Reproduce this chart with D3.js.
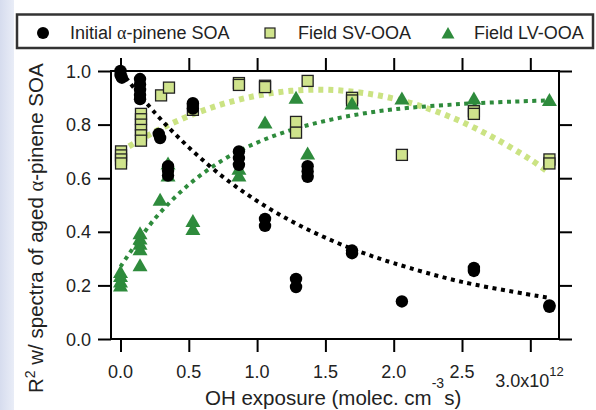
<!DOCTYPE html>
<html><head><meta charset="utf-8">
<script src="https://cdn.jsdelivr.net/npm/d3@7"></script>
<style>body{margin:0;background:#fff;} svg{display:block;font-family:"Liberation Sans",Arial,sans-serif;}</style>
</head><body>
<svg id="c" width="596" height="410"></svg>
<script>
// ---- data (x in 1e12 molec cm^-3 s, y = R^2) ----
const initialSOA = [[0,1.0],[0,0.985],[0.01,0.975],
  [0.143,0.97],[0.143,0.95],[0.143,0.93],[0.143,0.91],[0.143,0.895],
  [0.28,0.765],[0.29,0.75],[0.348,0.645],[0.348,0.628],[0.348,0.61],
  [0.53,0.88],[0.53,0.86],[0.867,0.70],[0.867,0.675],[0.867,0.65],
  [1.058,0.448],[1.058,0.422],[1.285,0.224],[1.285,0.194],
  [1.37,0.645],[1.37,0.625],[1.37,0.605],[1.695,0.33],[1.695,0.32],
  [2.06,0.14],[2.587,0.265],[2.587,0.254],[3.14,0.125],[3.14,0.12]];
const fieldSV = [[0.004,0.70],[0.004,0.685],[0.004,0.67],[0.004,0.655],
  [0.15,0.84],[0.15,0.82],[0.15,0.80],[0.15,0.78],[0.15,0.76],[0.15,0.74],
  [0.297,0.909],[0.355,0.938],[0.53,0.855],[0.867,0.955],[0.867,0.948],
  [1.058,0.945],[1.058,0.94],[1.37,0.963],[1.285,0.81],[1.285,0.77],
  [1.695,0.90],[1.695,0.89],[2.06,0.687],[2.587,0.85],[2.587,0.84],
  [3.14,0.67],[3.14,0.655]];
const fieldLV = [[0,0.25],[0,0.235],[0,0.215],[0,0.20],
  [0.143,0.395],[0.143,0.375],[0.143,0.355],[0.143,0.335],[0.143,0.275],
  [0.29,0.52],[0.348,0.655],[0.348,0.61],[0.53,0.44],[0.53,0.41],
  [0.867,0.635],[0.867,0.61],[1.058,0.808],[1.285,0.90],[1.37,0.692],
  [1.695,0.879],[2.06,0.897],[2.587,0.897],[3.14,0.892]];
// fit curves
const fitSOA = [[0,1.0],[0.25,0.845],[0.5,0.715],[0.75,0.605],[1.0,0.515],[1.25,0.44],
  [1.5,0.378],[1.75,0.326],[2.0,0.283],[2.5,0.213],[3.12,0.155]];
const fitSV = [[0,0.70],[0.25,0.773],[0.5,0.832],[0.75,0.877],[1.0,0.908],[1.25,0.926],
  [1.5,0.93],[1.75,0.92],[2.0,0.897],[2.25,0.86],[2.5,0.81],[2.75,0.746],[3.0,0.67],[3.14,0.62]];
const fitLV = [[0,0.27],[0.25,0.448],[0.5,0.576],[0.75,0.668],[1.0,0.733],[1.25,0.78],
  [1.5,0.814],[1.75,0.839],[2.0,0.857],[2.5,0.877],[3.0,0.888],[3.15,0.89]];
const xTicks = [0,0.5,1.0,1.5,2.0,2.5,3.0];
const yTicks = [0,0.2,0.4,0.6,0.8,1.0];
const legendLabels = ["Initial ", "α", "-pinene SOA", "Field SV-OOA", "Field LV-OOA"];

const svg = d3.select("#c");
// background
const defs = svg.append("defs");
const g1 = defs.append("linearGradient").attr("id","bgL").attr("x1","0").attr("x2","1");
g1.append("stop").attr("offset","0").attr("stop-color","#d6dcee");
g1.append("stop").attr("offset","1").attr("stop-color","#e9edf7");
svg.append("rect").attr("width",596).attr("height",410).attr("fill","#fff");
svg.append("rect").attr("x",0).attr("width",14).attr("height",410).attr("fill","url(#bgL)");

const x = d3.scaleLinear().domain([-0.0695,3.21]).range([111,559]);
const y = d3.scaleLinear().domain([0,1]).range([339,71]);

const DARK="#2e8b3c", LIGHTF="#cfe38c", LIGHTL="#cbe383";

// axes
function styleAxis(g){ g.select(".domain").remove(); g.selectAll("line").attr("stroke","#000").attr("stroke-width",2); }
svg.append("g").attr("transform","translate(111,0)")
  .call(d3.axisLeft(y).tickValues(yTicks).tickSize(13).tickFormat(""))
  .call(styleAxis);
svg.append("g").attr("transform","translate(559,0)")
  .call(d3.axisRight(y).tickValues(yTicks).tickSize(13).tickFormat(""))
  .call(styleAxis);
svg.append("g").attr("transform","translate(0,339)")
  .call(d3.axisBottom(x).tickValues(xTicks).tickSize(13).tickFormat(""))
  .call(styleAxis);
svg.append("g").attr("transform","translate(0,71)")
  .call(d3.axisTop(x).tickValues(xTicks).tickSize(13).tickFormat(""))
  .call(styleAxis);
svg.append("rect").attr("x",111).attr("y",71).attr("width",448).attr("height",268)
  .attr("fill","none").attr("stroke","#000").attr("stroke-width",2);

// tick labels
svg.append("g").selectAll("text").data(yTicks).join("text")
  .attr("x",91).attr("y",d=>y(d)+6.5).attr("text-anchor","end")
  .attr("font-size",18).attr("fill","#222").text(d=>d3.format(".1f")(d));
svg.append("g").selectAll("text").data(xTicks.slice(0,-1)).join("text")
  .attr("x",d=>x(d)).attr("y",378).attr("text-anchor","middle")
  .attr("font-size",18).attr("fill","#222").text(d=>d3.format(".1f")(d));
const last = xTicks[xTicks.length-1];
const lt = svg.append("text").attr("x",x(last)-35).attr("y",387).attr("font-size",18).attr("fill","#222");
lt.append("tspan").text(d3.format(".1f")(last)+"x10");
lt.append("tspan").attr("dy",-11).attr("font-size",13).text("12");

// axis titles
const xl = svg.append("text").attr("x",205).attr("y",405).attr("font-size",20.5).attr("fill","#222");
xl.append("tspan").text("OH exposure (molec. cm");
xl.append("tspan").attr("dy",-17).attr("font-size",14).text("-3");
xl.append("tspan").attr("dy",17).text("s)");
const yl = svg.append("text").attr("transform","translate(43,393) rotate(-90)").attr("font-size",20.5).attr("fill","#222");
yl.append("tspan").text("R");
yl.append("tspan").attr("dy",-8).attr("font-size",14).text("2");
yl.append("tspan").attr("dy",8).text(" w/ spectra of aged ");
yl.append("tspan").attr("font-family","'Liberation Serif',serif").text("α");
yl.append("tspan").text("-pinene SOA");

// fit lines
const line = d3.line().x(d=>x(d[0])).y(d=>y(d[1])).curve(d3.curveCatmullRom);
svg.append("path").attr("d",line(fitSV)).attr("fill","none").attr("stroke",LIGHTL)
  .attr("stroke-width",6).attr("stroke-dasharray","5 5");
svg.append("path").attr("d",line(fitLV)).attr("fill","none").attr("stroke",DARK)
  .attr("stroke-width",4).attr("stroke-dasharray","4 4.5");
svg.append("path").attr("d",line(fitSOA)).attr("fill","none").attr("stroke","#000")
  .attr("stroke-width",4).attr("stroke-dasharray","4 4.5");

// markers
const tri = "M-7.5,6 L7.5,6 L0,-7 Z";
svg.append("g").selectAll("rect").data(fieldSV).join("rect")
  .attr("x",d=>x(d[0])-5.5).attr("y",d=>y(d[1])-5.5).attr("width",11).attr("height",11)
  .attr("fill",LIGHTF).attr("stroke","#222").attr("stroke-width",1.3);
svg.append("g").selectAll("path").data(fieldLV).join("path")
  .attr("transform",d=>`translate(${x(d[0])},${y(d[1])})`).attr("d",tri).attr("fill",DARK);
svg.append("g").selectAll("circle").data(initialSOA).join("circle")
  .attr("cx",d=>x(d[0])).attr("cy",d=>y(d[1])).attr("r",6.2).attr("fill","#000");

// legend
svg.append("rect").attr("x",17).attr("y",14.5).attr("width",576).attr("height",33.5)
  .attr("fill","#fff").attr("stroke","#333").attr("stroke-width",2.5);
svg.append("circle").attr("cx",43).attr("cy",33).attr("r",6).attr("fill","#000");
const t1 = svg.append("text").attr("x",70).attr("y",39).attr("font-size",18).attr("fill","#222");
t1.append("tspan").text(legendLabels[0]);
t1.append("tspan").attr("font-family","'Liberation Serif',serif").text(legendLabels[1]);
t1.append("tspan").text(legendLabels[2]);
svg.append("rect").attr("x",265).attr("y",28).attr("width",10).attr("height",10)
  .attr("fill",LIGHTF).attr("stroke","#222").attr("stroke-width",1.2);
svg.append("text").attr("x",298).attr("y",39).attr("font-size",18).attr("fill","#222").text(legendLabels[3]);
svg.append("path").attr("transform","translate(448,33)").attr("d","M-6.5,5.5 L6.5,5.5 L0,-6 Z").attr("fill",DARK);
svg.append("text").attr("x",474).attr("y",39).attr("font-size",18).attr("fill","#222").text(legendLabels[4]);
</script>
</body></html>
